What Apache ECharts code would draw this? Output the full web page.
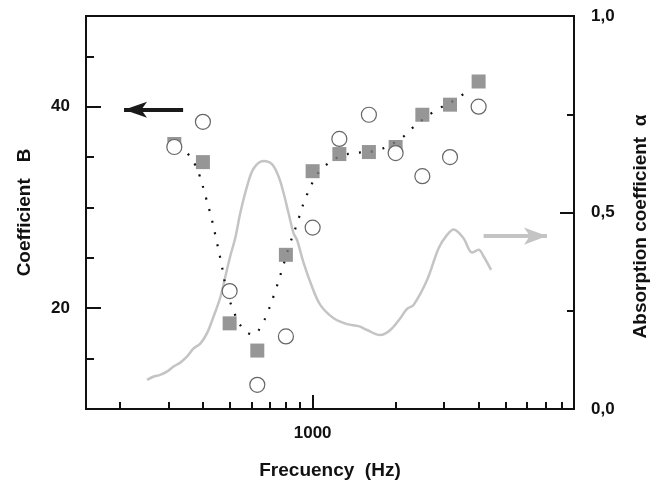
<!DOCTYPE html>
<html><head><meta charset="utf-8">
<script src="https://cdn.jsdelivr.net/npm/echarts@6/dist/echarts.min.js"></script>
<style>html,body{margin:0;padding:0;background:#fff}#c{width:662px;height:487px}</style>
</head><body><div id="c"></div>
<script>
// ---- data (frequencies in Hz) ----
const bandFreqs = [315, 400, 500, 630, 800, 1000, 1250, 1600, 2000, 2500, 3150, 4000];
const coefBSquares = [36.3, 34.5, 18.5, 15.8, 25.3, 33.6, 35.3, 35.5, 36.0, 39.2, 40.2, 42.5];
const coefBCircles = [36.0, 38.5, 21.7, 12.4, 17.2, 28.0, 36.8, 39.2, 35.4, 33.1, 35.0, 40.0];

const fitFreqs = [326, 348, 372, 388, 410, 430, 449, 467, 482, 512, 561, 611, 655, 685, 734, 778, 823, 878, 933, 1014, 1087, 1260, 1432, 1731, 2080, 2280, 2748, 3340, 3672];
const fitB = [36.1, 35.5, 34.4, 33.25, 31.0, 28.9, 26.6, 24.4, 22.4, 20.0, 17.9, 17.4, 18.4, 19.5, 21.8, 24.0, 26.2, 28.4, 30.6, 32.8, 33.9, 35.1, 35.4, 35.7, 36.8, 37.8, 39.5, 40.8, 41.7];

const alphaFreqs = [251, 264, 280, 296, 313, 331, 350, 370, 392, 414, 437, 463, 482, 503, 524, 547, 578, 611, 664, 712, 753, 785, 818, 853, 878, 928, 995, 1066, 1192, 1333, 1468, 1575, 1761, 1913, 2080, 2200, 2325, 2600, 2864, 3073, 3246, 3529, 3786, 4000, 4172, 4438];
const alphaValues = [0.074, 0.082, 0.087, 0.095, 0.108, 0.118, 0.133, 0.154, 0.167, 0.193, 0.235, 0.285, 0.336, 0.39, 0.435, 0.5, 0.566, 0.612, 0.631, 0.623, 0.591, 0.549, 0.498, 0.447, 0.43, 0.371, 0.311, 0.265, 0.231, 0.216, 0.211, 0.201, 0.188, 0.201, 0.231, 0.255, 0.265, 0.328, 0.409, 0.443, 0.457, 0.434, 0.398, 0.405, 0.388, 0.354];

// annotation arrows: [fromFreq, toFreq, value]
const arrowB = [339, 207, 39.7];
const arrowAlpha = [4169, 7080, 0.44];

// ticks
const xLabelTicks = [1000];
const xMinorTicks = [200, 300, 400, 500, 600, 700, 800, 900, 2000, 3000, 4000, 5000, 6000, 7000, 8000];
const leftMajorTicks = [20, 40];
const leftMinorTicks = [15, 25, 30, 35, 45];
const rightLabelTicks = [0, 0.5, 1];
const rightMajorTicks = [0.5];
const rightMinorTicks = [0.25, 0.75];

const lg = Math.log10;
const pairs = (xs, ys) => xs.map((f, i) => [lg(f), ys[i]]);

const FONT = "'Liberation Sans', Arial, Helvetica, sans-serif";
const XMIN = 2.178, XMAX = 3.948;
const axisLine = { show: true, lineStyle: { color: '#111', width: 2 } };
const labelStyle = { fontFamily: FONT, fontWeight: 'bold', fontSize: 17, color: '#111' };
const nameStyle = { fontFamily: FONT, fontWeight: 'bold', fontSize: 19, color: '#111' };

const chart = echarts.init(document.getElementById('c'), null, { renderer: 'canvas' });
chart.setOption({
  animation: false,
  grid: { left: 86, right: 88, top: 16, bottom: 78, show: true, borderColor: '#111', borderWidth: 2, backgroundColor: 'transparent' },
  xAxis: [
    {
      type: 'value', min: XMIN, max: XMAX, position: 'bottom',
      axisLine: axisLine, splitLine: { show: false },
      axisTick: { show: true, inside: true, length: 14, lineStyle: { color: '#111', width: 2 }, customValues: xLabelTicks.map(lg) },
      axisLabel: { show: true, margin: 16, customValues: xLabelTicks.map(lg), formatter: v => String(Math.round(Math.pow(10, v))), ...labelStyle },
      name: 'Frecuency  (Hz)', nameLocation: 'middle', nameGap: 52, nameTextStyle: nameStyle
    },
    {
      type: 'value', min: XMIN, max: XMAX, position: 'bottom',
      axisLine: { show: false }, splitLine: { show: false },
      axisTick: { show: true, inside: true, length: 7, lineStyle: { color: '#111', width: 2 }, customValues: xMinorTicks.map(lg) },
      axisLabel: { show: false }
    }
  ],
  yAxis: [
    {
      type: 'value', min: 10, max: 49, position: 'left',
      axisLine: axisLine, splitLine: { show: false },
      axisTick: { show: true, inside: true, length: 15, lineStyle: { color: '#111', width: 2 }, customValues: leftMajorTicks },
      axisLabel: { show: true, margin: 16, customValues: leftMajorTicks, ...labelStyle },
      name: 'Coefficient   B', nameLocation: 'middle', nameRotate: 90, nameGap: 52, nameTextStyle: nameStyle
    },
    {
      type: 'value', min: 10, max: 49, position: 'left',
      axisLine: { show: false }, splitLine: { show: false },
      axisTick: { show: true, inside: true, length: 8, lineStyle: { color: '#111', width: 2 }, customValues: leftMinorTicks },
      axisLabel: { show: false }
    },
    {
      type: 'value', min: 0, max: 1, position: 'right',
      axisLine: axisLine, splitLine: { show: false },
      axisTick: { show: true, inside: true, length: 14, lineStyle: { color: '#111', width: 2 }, customValues: rightMajorTicks },
      axisLabel: { show: true, margin: 17, customValues: rightLabelTicks, formatter: v => v.toFixed(1).replace('.', ','), ...labelStyle },
      name: 'Absorption coefficient  α', nameLocation: 'middle', nameRotate: 90, nameGap: 57,
      nameTextStyle: { ...nameStyle, padding: [0, 28, 0, 0] }
    },
    {
      type: 'value', min: 0, max: 1, position: 'right',
      axisLine: { show: false }, splitLine: { show: false },
      axisTick: { show: true, inside: true, length: 7, lineStyle: { color: '#111', width: 2 }, customValues: rightMinorTicks },
      axisLabel: { show: false }
    }
  ],
  series: [
    {
      type: 'line', xAxisIndex: 0, yAxisIndex: 2, data: pairs(alphaFreqs, alphaValues),
      showSymbol: false, smooth: 0.35, lineStyle: { color: '#c4c4c4', width: 2.5 }, z: 1,
      markLine: {
        silent: true, symbol: ['none', 'arrow'], symbolSize: [13, 23], label: { show: false },
        lineStyle: { color: '#c4c4c4', width: 4, type: 'solid' },
        data: [[{ coord: [lg(arrowAlpha[0]), arrowAlpha[2]] }, { coord: [lg(arrowAlpha[1]), arrowAlpha[2]] }]]
      }
    },
    {
      type: 'line', xAxisIndex: 0, yAxisIndex: 0, data: pairs(fitFreqs, fitB),
      showSymbol: false, smooth: 0.4, lineStyle: { color: '#111', width: 2.2, type: [2, 10] }, z: 2,
      markLine: {
        silent: true, symbol: ['none', 'arrow'], symbolSize: [12, 23], label: { show: false },
        lineStyle: { color: '#1a1a1a', width: 4, type: 'solid' },
        data: [[{ coord: [lg(arrowB[0]), arrowB[2]] }, { coord: [lg(arrowB[1]), arrowB[2]] }]]
      }
    },
    {
      type: 'scatter', xAxisIndex: 0, yAxisIndex: 0, data: pairs(bandFreqs, coefBSquares),
      symbol: 'rect', symbolSize: 14, itemStyle: { color: '#7c7c7c' }, z: 3
    },
    {
      type: 'scatter', xAxisIndex: 0, yAxisIndex: 0, data: pairs(bandFreqs, coefBCircles),
      symbol: 'circle', symbolSize: 15, itemStyle: { color: '#ffffff', borderColor: '#666', borderWidth: 1.2, opacity: 1 }, z: 4
    }
  ]
});
</script>
</body></html>
